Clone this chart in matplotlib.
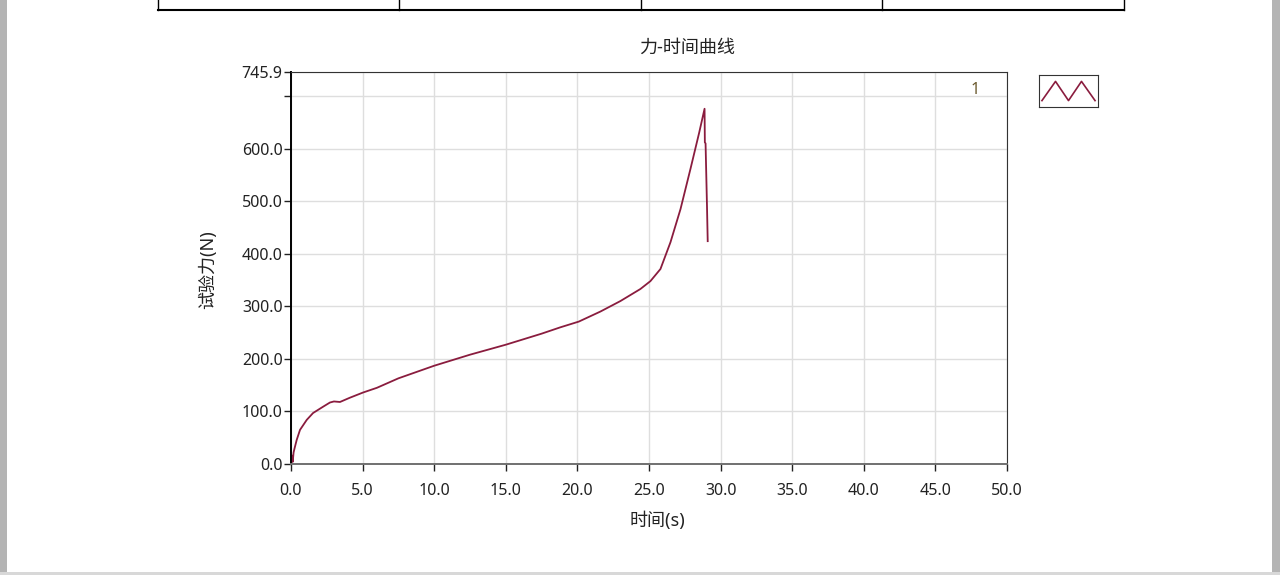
import matplotlib.pyplot as plt
from matplotlib.patches import Rectangle
from matplotlib.lines import Line2D

plt.rcParams['font.family'] = ['Noto Sans', 'Noto Sans CJK SC', 'DejaVu Sans']

# force-time curve
time_s = [0.0, 0.08, 0.12, 0.18, 0.25, 0.4, 0.63, 1.1, 1.54, 2.24, 2.72, 3.0, 3.42,
          4.1, 5.03, 6.0, 7.5, 10.0, 12.5, 15.0, 17.5, 18.8, 20.1, 21.6, 23.0,
          24.4, 25.1, 25.8, 26.5, 27.2, 27.9, 28.5, 28.88, 28.9, 28.95, 29.05, 29.1]
force_n = [0.0, 16.0, 4.0, 22.0, 30.0, 46.0, 65.0, 84.0, 97.0, 109.0, 117.0, 119.0, 118.0,
           126.0, 136.0, 145.0, 163.0, 187.0, 208.0, 227.0, 248.0, 260.0, 271.0, 290.0, 310.0,
           333.0, 348.0, 371.0, 422.0, 485.0, 562.0, 630.0, 676.0, 612.0, 610.0, 490.0, 424.0]

x_ticks = [0, 5, 10, 15, 20, 25, 30, 35, 40, 45, 50]
y_ticks = [0, 100, 200, 300, 400, 500, 600, 700, 745.9]
y_labels = ['0.0', '100.0', '200.0', '300.0', '400.0', '500.0', '600.0', '', '745.9']

line_color = '#8a1c3e'
W, H = 1280, 575

fig = plt.figure(figsize=(12.8, 5.75), dpi=100)
fig.patch.set_facecolor('white')

# grey window edges
fig.add_artist(Rectangle((0, 0), 7 / W, 1, transform=fig.transFigure, color='#b4b4b4', lw=0))
fig.add_artist(Rectangle((1272 / W, 0), 8 / W, 1, transform=fig.transFigure, color='#b4b4b4', lw=0))
fig.add_artist(Rectangle((0, 0), 1, 3 / H, transform=fig.transFigure, color='#d8d8d8', lw=0))

# bottom of the table above
ty = 1 - 10 / H
fig.add_artist(Line2D([158 / W, 1124 / W], [ty, ty], transform=fig.transFigure, color='black', lw=1.5))
for xv in [158, 399, 641, 882, 1124]:
    fig.add_artist(Line2D([xv / W, xv / W], [ty, 1], transform=fig.transFigure, color='black', lw=1))

ax = fig.add_axes([291 / W, 1 - 464 / H, (1007 - 291) / W, (464 - 72) / H])
ax.plot(time_s, force_n, color=line_color, lw=1.3)
ax.set_xlim(0, 50)
ax.set_ylim(0, 745.9)
ax.set_xticks(x_ticks)
ax.set_xticklabels([f'{v:.1f}' for v in x_ticks])
ax.set_yticks(y_ticks)
ax.set_yticklabels(y_labels)
ax.grid(True, color='#dedede', lw=1)
ax.set_axisbelow(True)
ax.tick_params(direction='out', length=5, width=1, labelsize=11.5, colors='#222222')
ax.tick_params(axis='y', pad=1)
ax.tick_params(axis='x', pad=9)
for s in ['top', 'right']:
    ax.spines[s].set_color('#333333')
ax.spines['left'].set_color('black')
ax.spines['left'].set_linewidth(1.4)
ax.spines['bottom'].set_color('#707070')
ax.spines['bottom'].set_linewidth(1.4)

ax.text(0.955, 0.955, '1', transform=ax.transAxes, ha='center', va='center',
        fontsize=11.5, color='#6b5a2e')

fig.text(687 / W, 1 - 48 / H, '力-时间曲线', ha='center', va='center', fontsize=13, color='#222222')
fig.text(657 / W, 1 - 521 / H, '时间(s)', ha='center', va='center', fontsize=13, color='#222222')
fig.text(208 / W, 1 - 270 / H, '试验力(N)', ha='center', va='center', rotation=90,
         fontsize=13, color='#222222')

# legend glyph box
lax = fig.add_axes([1039 / W, 1 - 107 / H, 59 / W, 32 / H])
lax.plot([0.05, 0.28, 0.5, 0.72, 0.95], [0.2, 0.8, 0.2, 0.8, 0.2], color=line_color, lw=1.2)
lax.set_xlim(0, 1)
lax.set_ylim(0, 1)
lax.set_xticks([])
lax.set_yticks([])
for s in lax.spines.values():
    s.set_color('#333333')

fig.savefig('out.png', dpi=100)
